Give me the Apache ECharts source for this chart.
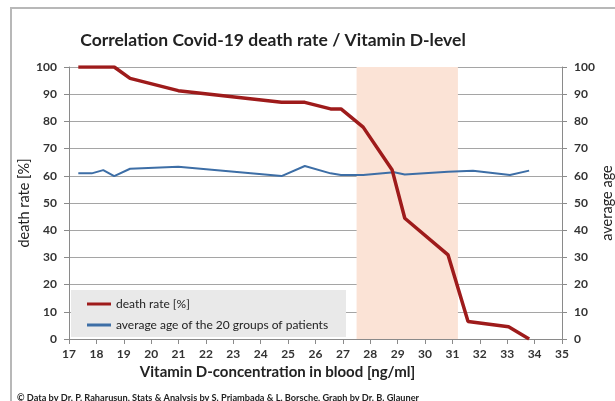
<!DOCTYPE html>
<html><head><meta charset="utf-8">
<script src="https://cdn.jsdelivr.net/npm/echarts@6/dist/echarts.min.js"></script>
<style>html,body{margin:0;padding:0;background:#fff}#c{width:615px;height:401px}</style>
</head><body><div id="c"></div>
<script>
// Vitamin D concentration [ng/ml] of the groups
const vitD = [17.34, 17.83, 18.25, 18.65, 19.23, 20.99, 24.76, 25.61, 26.55, 26.93, 27.74, 28.8, 29.26, 30.84, 31.57, 33.05, 33.8];
const deathRate = [100, 100, 100, 100, 95.8, 91.3, 87.0, 87.0, 84.6, 84.6, 77.9, 62.1, 44.4, 30.9, 6.4, 4.5, 0];
const vitDAge = [17.34, 17.83, 18.25, 18.65, 19.23, 20.99, 24.76, 25.61, 26.55, 26.93, 27.74, 28.87, 29.26, 30.84, 31.75, 33.1, 33.8];
const avgAge = [60.9, 60.9, 62.1, 59.9, 62.6, 63.3, 59.9, 63.6, 60.9, 60.3, 60.3, 61.3, 60.5, 61.5, 61.9, 60.3, 61.9];
const band = [27.5, 31.2];
const xTicks = {min: 17, max: 35, interval: 1};
const yTicks = {min: 0, max: 100, interval: 10};

const FONT = 'Lato';
const chart = echarts.init(document.getElementById('c'));
const axisLbl = {color: '#333', fontFamily: FONT, fontWeight: 'bold', fontSize: 12};
chart.setOption({
  animation: false,
  textStyle: {fontFamily: FONT},
  title: [{
    text: 'Correlation Covid-19 death rate / Vitamin D-level',
    left: 268, top: 26, textAlign: 'center',
    textStyle: {fontFamily: FONT, fontWeight: 'bold', fontSize: 17.5, color: '#222'}
  }, {
    text: '© Data by Dr. P. Raharusun, Stats & Analysis by S. Priambada & L. Borsche, Graph by Dr. B. Glauner',
    left: 12, top: 389,
    textStyle: {fontFamily: FONT, fontWeight: 'bold', fontSize: 9.2, color: '#222'}
  }],
  graphic: [{
    type: 'rect', left: 10, top: 7, z: -10,
    shape: {width: 640, height: 420},
    style: {fill: '#fff', stroke: '#b8b8b8', lineWidth: 2}
  }, {
    type: 'rect', left: 71, top: 290, z: 1,
    shape: {width: 275, height: 47},
    style: {fill: '#e9e9e9'}
  }],
  legend: {
    orient: 'vertical', left: 82, top: 293, itemGap: 9,
    itemWidth: 24, itemHeight: 3,
    textStyle: {fontFamily: FONT, fontSize: 12, color: '#222'},
    data: [{name: 'death rate [%]', icon: 'rect'}, {name: 'average age of the 20 groups of patients', icon: 'rect'}]
  },
  grid: {left: 69, right: 53, top: 67, bottom: 62, outerBoundsMode: 'none', containLabel: false},
  xAxis: {
    type: 'value', min: xTicks.min, max: xTicks.max, interval: xTicks.interval,
    name: 'Vitamin D-concentration in blood [ng/ml]', nameLocation: 'middle', nameGap: 26, nameMoveOverlap: false,
    nameTextStyle: {fontFamily: FONT, fontWeight: 'bold', fontSize: 15, color: '#222', padding: [0, 76, 0, 0]},
    axisLine: {lineStyle: {color: '#8a8a8a'}},
    axisTick: {show: true, length: 5, lineStyle: {color: '#8a8a8a'}},
    axisLabel: Object.assign({margin: 9}, axisLbl),
    splitLine: {show: false}
  },
  yAxis: [{
    type: 'value', min: yTicks.min, max: yTicks.max, interval: yTicks.interval,
    name: 'death rate [%]', nameLocation: 'middle', nameGap: 37, nameRotate: 90, nameMoveOverlap: false,
    nameTextStyle: {fontFamily: FONT, fontSize: 14.5, color: '#222'},
    axisLine: {show: true, lineStyle: {color: '#8a8a8a'}},
    axisTick: {show: true, length: 5, lineStyle: {color: '#8a8a8a'}},
    axisLabel: Object.assign({margin: 12}, axisLbl),
    splitLine: {show: true, lineStyle: {color: '#a5a5a5', width: 1}}
  }, {
    type: 'value', min: yTicks.min, max: yTicks.max, interval: yTicks.interval, position: 'right',
    name: 'average age', nameLocation: 'middle', nameGap: 38, nameRotate: 90, nameMoveOverlap: false,
    nameTextStyle: {fontFamily: FONT, fontSize: 14.5, color: '#222'},
    axisLine: {show: true, lineStyle: {color: '#8a8a8a'}},
    axisTick: {show: true, length: 5, lineStyle: {color: '#8a8a8a'}},
    axisLabel: Object.assign({margin: 12}, axisLbl),
    splitLine: {show: false}
  }],
  series: [{
    name: 'death rate [%]', type: 'line', yAxisIndex: 0, z: 3,
    data: vitD.map((x, i) => [x, deathRate[i]]),
    symbol: 'none', showSymbol: false, color: '#9e1b1b',
    lineStyle: {width: 3.5, color: '#9e1b1b'},
    markArea: {
      silent: true, itemStyle: {color: '#fbe3d6'},
      data: [[{xAxis: band[0], yAxis: 0}, {xAxis: band[1], yAxis: 100}]]
    }
  }, {
    name: 'average age of the 20 groups of patients', type: 'line', yAxisIndex: 1, z: 2,
    data: vitDAge.map((x, i) => [x, avgAge[i]]),
    symbol: 'none', showSymbol: false, color: '#3d6ea6',
    lineStyle: {width: 2, color: '#3d6ea6'}
  }]
});
</script></body></html>
